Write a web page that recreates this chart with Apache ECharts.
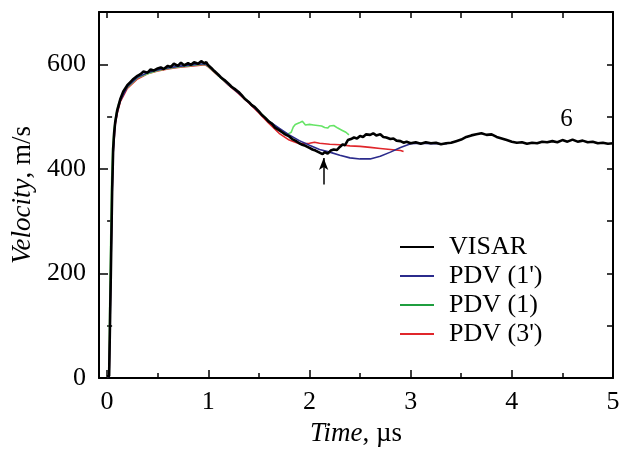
<!DOCTYPE html>
<html>
<head>
<meta charset="utf-8">
<script src="https://cdn.jsdelivr.net/npm/echarts@6/dist/echarts.min.js"></script>
<style>html,body{margin:0;padding:0;background:#fff}#c{width:627px;height:452px}</style>
</head>
<body>
<div id="c"></div>
<script>
// ---- data (time in µs, velocity in m/s) ----
const visar = [[0.00,3],[0.02,4],[0.03,120],[0.037,200],[0.045,300],[0.05,360],[0.06,438],[0.07,470],[0.08,489],[0.1,512],[0.13,533],[0.16,548],[0.2,560],[0.23,566],[0.26,572],[0.3,578],[0.33,581],[0.36,586],[0.4,584],[0.43,590],[0.46,588],[0.5,592],[0.53,594],[0.56,591],[0.6,597],[0.63,595],[0.66,601],[0.7,597],[0.73,603],[0.76,598],[0.8,602],[0.83,599],[0.86,604],[0.9,601],[0.93,606],[0.96,602],[0.98,604],[1.0,598],[1.03,593],[1.06,587],[1.1,580],[1.13,574],[1.16,570],[1.2,563],[1.23,557],[1.26,553],[1.3,547],[1.33,541],[1.36,534],[1.4,528],[1.43,522],[1.46,518],[1.5,510],[1.53,503],[1.56,498],[1.6,490],[1.63,486],[1.66,479],[1.7,474],[1.73,470],[1.76,466],[1.8,462],[1.83,457],[1.86,454],[1.9,449],[1.93,446],[1.96,444],[2.0,440],[2.03,437],[2.06,435],[2.1,431],[2.13,428],[2.15,432],[2.18,429],[2.21,435],[2.24,437],[2.27,436],[2.3,442],[2.33,447],[2.35,445],[2.38,455],[2.41,457],[2.44,460],[2.47,458],[2.5,463],[2.53,461],[2.56,466],[2.6,465],[2.63,468],[2.66,464],[2.7,466],[2.73,461],[2.76,460],[2.8,457],[2.83,458],[2.86,454],[2.9,453],[2.93,450],[2.96,452],[3.0,449],[3.05,451],[3.1,448],[3.15,451],[3.2,449],[3.25,450],[3.3,447],[3.35,449],[3.4,450],[3.45,453],[3.5,456],[3.55,461],[3.6,464],[3.65,466],[3.7,468],[3.75,465],[3.8,466],[3.85,461],[3.9,458],[3.95,455],[4.0,452],[4.05,450],[4.1,451],[4.15,448],[4.2,450],[4.25,449],[4.3,452],[4.35,451],[4.4,453],[4.45,451],[4.5,455],[4.55,452],[4.6,456],[4.65,452],[4.7,454],[4.75,451],[4.8,452],[4.85,449],[4.9,450],[4.95,448],[5.0,449]];

const pdv1p = [[0.0,2],[0.02,3],[0.03,110],[0.04,230],[0.05,350],[0.06,430],[0.08,486],[0.1,508],[0.13,530],[0.2,557],[0.3,575],[0.4,584],[0.5,589],[0.6,593],[0.7,596],[0.8,598],[0.9,600],[0.97,601],[1.0,597],[1.1,579],[1.2,561],[1.3,545],[1.4,527],[1.5,509],[1.6,491],[1.7,478],[1.8,465],[1.9,454],[2.0,445],[2.1,437],[2.2,432],[2.3,426],[2.4,421],[2.5,419],[2.6,419],[2.7,424],[2.8,432],[2.9,441],[3.0,448],[3.1,449],[3.2,448],[3.36,448]];

const pdv1 = [[0.0,2],[0.02,5],[0.025,130],[0.035,260],[0.045,380],[0.055,440],[0.07,478],[0.09,505],[0.11,522],[0.15,542],[0.2,556],[0.3,574],[0.4,582],[0.5,588],[0.6,592],[0.7,595],[0.8,597],[0.9,599],[0.97,600],[1.0,596],[1.1,578],[1.2,561],[1.3,546],[1.4,528],[1.5,510],[1.6,492],[1.7,476],[1.78,466],[1.82,470],[1.84,480],[1.86,485],[1.9,488],[1.93,491],[1.96,484],[2.0,485],[2.04,484],[2.08,483],[2.12,482],[2.15,479],[2.18,478],[2.2,482],[2.24,483],[2.28,478],[2.32,474],[2.36,470],[2.39,465]];

const pdv3p = [[0.0,2],[0.02,4],[0.03,125],[0.04,245],[0.05,360],[0.06,432],[0.08,484],[0.1,506],[0.13,528],[0.2,554],[0.3,572],[0.4,582],[0.5,587],[0.6,591],[0.7,594],[0.8,596],[0.9,598],[0.97,599],[1.0,595],[1.1,578],[1.2,560],[1.3,544],[1.4,526],[1.5,507],[1.6,487],[1.7,468],[1.8,455],[1.9,448],[2.0,449],[2.05,451],[2.1,449],[2.2,447],[2.3,446],[2.4,444],[2.5,443],[2.6,441],[2.7,439],[2.8,437],[2.9,435],[2.93,433]];

const xMajorTicks = [0,1,2,3,4,5];
const xMinorTicks = [0.5,1.5,2.5,3.5,4.5];
const xTopTicks = [0,0.5,1,1.5,2,2.5,3,3.5,4,4.5,5];
const yMajorTicks = [0,200,400,600];
const yMinorTicks = [100,300,500];
const yRightTicks = [0,100,200,300,400,500,600];
const arrowFrom = [2.14, 370];
const arrowTo = [2.14, 421];
const curveLabelPos = [4.54, 495];
const curveLabel = '6';

const FONT = 'Liberation Serif';
const chart = echarts.init(document.getElementById('c'), null, {renderer: 'canvas'});

const lbl = {color:'#000', fontFamily:FONT, fontSize:26};
const NAMEFS = 27;
function xa(extra){ return Object.assign({type:'value', min:-0.08, max:5, splitLine:{show:false}, axisLabel:{show:false}, axisLine:{show:false}, axisTick:{show:false}}, extra); }
function ya(extra){ return Object.assign({type:'value', min:0, max:700, splitLine:{show:false}, axisLabel:{show:false}, axisLine:{show:false}, axisTick:{show:false}}, extra); }
const lineAx = {show:true, onZero:false, lineStyle:{color:'#000', width:2}};

chart.setOption({
  animation:false,
  backgroundColor:'#fff',
  grid:{left:99, right:14, top:12, bottom:71, containLabel:false},
  xAxis:[
    xa({position:'bottom', axisLine:lineAx,
        axisTick:{show:true, inside:true, length:8, customValues:xMajorTicks, lineStyle:{color:'#000', width:1.5}},
        axisLabel:Object.assign({show:true, margin:11, customValues:xMajorTicks}, lbl),
        name:'{i|Time}, µs', nameLocation:'middle', nameGap:42,
        nameTextStyle:{color:'#000', fontFamily:FONT, fontSize:NAMEFS, rich:{i:{fontStyle:'italic', fontFamily:FONT, fontSize:NAMEFS, color:'#000'}}}}),
    xa({position:'bottom',
        axisTick:{show:true, inside:true, length:5, customValues:xMinorTicks, lineStyle:{color:'#000', width:1.5}}}),
    xa({position:'top', axisLine:lineAx,
        axisTick:{show:true, inside:true, length:6, customValues:xTopTicks, lineStyle:{color:'#000', width:1.5}}})
  ],
  yAxis:[
    ya({position:'left', axisLine:lineAx,
        axisTick:{show:true, inside:true, length:9, customValues:yMajorTicks, lineStyle:{color:'#000', width:1.5}},
        axisLabel:Object.assign({show:true, margin:13, customValues:yMajorTicks}, lbl),
        name:'{i|Velocity}, m/s', nameLocation:'middle', nameGap:63, nameRotate:90,
        nameTextStyle:{color:'#000', fontFamily:FONT, fontSize:NAMEFS, rich:{i:{fontStyle:'italic', fontFamily:FONT, fontSize:NAMEFS, color:'#000'}}}}),
    ya({position:'left',
        axisTick:{show:true, inside:true, length:5, customValues:yMinorTicks, lineStyle:{color:'#000', width:1.5}}}),
    ya({position:'right', axisLine:lineAx,
        axisTick:{show:true, inside:true, length:6, customValues:yRightTicks, lineStyle:{color:'#000', width:1.5}}})
  ],
  legend:{
    orient:'vertical', left:395, top:229, itemWidth:34, itemHeight:12, itemGap:3,
    icon:'path://M0,5L34,5L34,7.2L0,7.2Z',
    textStyle:{color:'#000', fontFamily:FONT, fontSize:26, padding:[0,0,0,10]},
    data:[
      {name:'VISAR', itemStyle:{color:'#000'}},
      {name:"PDV (1')", itemStyle:{color:'#2b2b8c'}},
      {name:'PDV (1)', itemStyle:{color:'#1f9e3f'}},
      {name:"PDV (3')", itemStyle:{color:'#e0262b'}}
    ]
  },
  series:[
    {name:"PDV (3')", type:'line', data:pdv3p, symbol:'none', lineStyle:{color:'#e0262b', width:1.6}, itemStyle:{color:'#e0262b'}, z:2},
    {name:'PDV (1)', type:'line', data:pdv1, symbol:'none', lineStyle:{color:'#66e466', width:1.6}, itemStyle:{color:'#66e466'}, z:2},
    {name:"PDV (1')", type:'line', data:pdv1p, symbol:'none', lineStyle:{color:'#2b2b8c', width:1.6}, itemStyle:{color:'#2b2b8c'}, z:3},
    {name:'VISAR', type:'line', data:visar, symbol:'none', lineStyle:{color:'#000', width:2.6}, itemStyle:{color:'#000'}, z:4,
     markLine:{silent:true, symbol:['none','arrow'], symbolSize:[7,12], label:{show:false},
       lineStyle:{color:'#000', width:1.5, type:'solid'},
       data:[[{coord:arrowFrom},{coord:arrowTo}]]},
     markPoint:{silent:true, symbol:'rect', symbolSize:1, itemStyle:{color:'rgba(0,0,0,0)'},
       label:{show:true, position:'inside', formatter:curveLabel, color:'#000', fontFamily:FONT, fontSize:25},
       data:[{coord:curveLabelPos}]}}
  ]
});
</script>
</body>
</html>
